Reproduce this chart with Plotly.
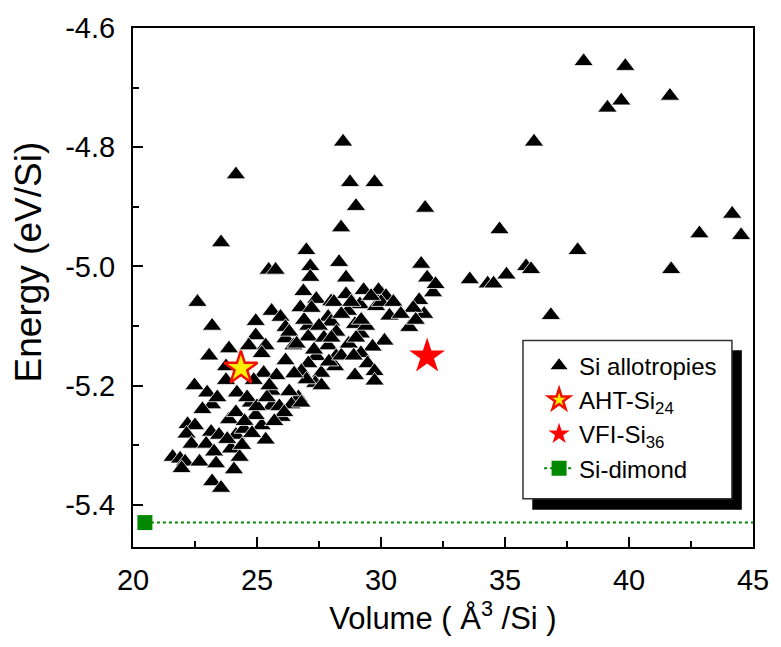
import plotly.graph_objects as go

# Si allotropies: volume (A^3/Si) and energy (eV/Si)
allo_volume = [
    38.17, 39.85, 39.13, 39.69, 41.65, 28.47, 36.17, 24.15, 28.75, 29.74,
    28.99, 31.78, 44.16, 28.39, 34.78, 42.84, 44.52, 23.55, 37.93, 35.85,
    36.05, 41.70, 35.06, 34.30, 34.54, 33.58, 36.85, 31.62, 31.86, 32.10,
    31.54, 31.74, 31.14, 32.20, 31.30, 31.40,
    26.99, 25.47, 25.75, 28.31, 27.15, 27.15, 28.59, 26.87, 28.59, 30.06,
    27.39, 27.99, 29.15, 29.78, 22.60, 25.59, 26.75, 28.67, 30.34, 24.95,
    25.95, 27.87, 28.95, 23.19, 26.15, 27.07, 27.99, 24.95, 26.15, 27.07,
    29.19, 30.14, 24.67, 25.35, 26.47, 27.87, 29.66, 23.87, 23.07, 27.39,
    28.19, 29.19, 25.19, 26.15, 27.07, 29.46, 23.75, 28.15, 29.74, 25.27,
    25.79, 26.79, 27.59, 28.95, 29.74, 22.48, 23.75, 24.87, 27.35, 22.99,
    24.19, 25.59, 26.67,
    22.20, 22.50, 22.16, 23.15, 23.47, 22.36, 22.95, 21.60, 21.90, 22.10,
    21.96, 22.68, 23.27, 23.35, 23.95, 24.07, 23.19, 23.55, 24.15, 24.47,
    25.19, 25.35, 25.99, 23.87, 24.15, 23.19, 24.95, 25.59, 26.39, 26.79,
    24.75,
    24.60, 25.00, 25.40, 25.90, 26.30, 26.10, 25.70, 24.50, 27.00, 27.60,
    27.90, 28.40, 29.90, 30.20, 29.80, 30.00, 26.30, 26.60, 26.90, 27.20,
    27.50, 27.70, 28.10, 28.40, 28.80, 29.30, 29.60, 28.20, 28.70, 29.00,
    29.40, 30.50, 30.80, 24.30, 24.80, 23.80, 23.40, 22.80, 24.40, 25.50,
    26.50, 27.30, 28.00, 28.90, 29.20,
]
allo_energy = [
    -4.656, -4.664, -4.734, -4.722, -4.714, -4.791, -4.791, -4.846, -4.859, -4.859,
    -4.899, -4.902, -4.912, -4.935, -4.938, -4.945, -4.948, -4.960, -4.973, -5.000,
    -5.005, -5.005, -5.014, -5.029, -5.029, -5.022, -5.082, -4.996, -5.019, -5.044,
    -5.057, -5.080, -5.102, -5.030, -5.070, -5.090,
    -4.973, -5.006, -5.006, -4.993, -5.000, -5.018, -5.019, -5.042, -5.047, -5.047,
    -5.055, -5.059, -5.064, -5.067, -5.060, -5.075, -5.069, -5.075, -5.083, -5.092,
    -5.085, -5.085, -5.097, -5.100, -5.102, -5.100, -5.093, -5.116, -5.121, -5.118,
    -5.113, -5.125, -5.133, -5.133, -5.133, -5.133, -5.135, -5.138, -5.150, -5.151,
    -5.151, -5.146, -5.146, -5.158, -5.163, -5.163, -5.168, -5.168, -5.176, -5.179,
    -5.183, -5.176, -5.179, -5.183, -5.192, -5.200, -5.191, -5.191, -5.196, -5.212,
    -5.212, -5.209, -5.220,
    -5.265, -5.267, -5.281, -5.278, -5.283, -5.298, -5.298, -5.320, -5.323, -5.328,
    -5.339, -5.328, -5.311, -5.331, -5.306, -5.341, -5.361, -5.372, -5.283, -5.273,
    -5.267, -5.291, -5.253, -5.257, -5.245, -5.232, -5.250, -5.234, -5.232, -5.229,
    -5.229,
    -5.220, -5.235, -5.220, -5.235, -5.210, -5.245, -5.260, -5.260, -5.190, -5.200,
    -5.160, -5.150, -5.040, -5.050, -5.067, -5.060, -5.110, -5.130, -5.090, -5.070,
    -5.100, -5.120, -5.060, -5.080, -5.060, -5.040, -5.050, -5.110, -5.130, -5.120,
    -5.100, -5.060, -5.080, -5.320, -5.280, -5.290, -5.220, -5.240, -5.300, -5.200,
    -5.180, -5.140, -5.120, -5.150, -5.090,
]

aht_volume = [24.35]
aht_energy = [-5.171]
vfi_volume = [31.86]
vfi_energy = [-5.151]
# diamond point plus the dotted reference line running to the right edge
dimond_volume = [20.48, 46.0]
dimond_energy = [-5.43, -5.43]

x_ticks = [20, 25, 30, 35, 40, 45]
y_ticks = [-4.6, -4.8, -5.0, -5.2, -5.4]
y_ticktext = ["-4.6", "-4.8", "-5.0", "-5.2", "-5.4"]

fig = go.Figure()

fig.add_trace(go.Scatter(
    x=allo_volume, y=allo_energy, mode="markers", name="Si allotropies",
    marker=dict(symbol="triangle-up", size=17, color="black",
                line=dict(color="white", width=0.8)),
))
fig.add_trace(go.Scatter(
    x=aht_volume, y=aht_energy, mode="markers", name="AHT-Si<sub>24</sub>",
    marker=dict(symbol="star", size=25, color="#ffee00",
                line=dict(color="#ee1100", width=2.5)),
))
fig.add_trace(go.Scatter(
    x=vfi_volume, y=vfi_energy, mode="markers", name="VFI-Si<sub>36</sub>",
    marker=dict(symbol="star", size=27, color="#ff0000", line=dict(width=0)),
))
fig.add_trace(go.Scatter(
    x=dimond_volume, y=dimond_energy, mode="lines+markers", name="Si-dimond",
    line=dict(color="#008800", width=2, dash="dot"),
    marker=dict(symbol="square", size=15, color="#008800"),
))

# legend frame with a drop shadow
fig.add_shape(type="rect", xref="paper", yref="paper",
              x0=0.644, x1=0.982, y0=0.072, y1=0.379,
              fillcolor="black", line=dict(width=0), layer="above")
fig.add_shape(type="rect", xref="paper", yref="paper",
              x0=0.629, x1=0.966, y0=0.093, y1=0.398,
              fillcolor="white", line=dict(color="#333333", width=1.5), layer="above")

tick_font = dict(family="Arial", size=29, color="black")
fig.update_xaxes(
    range=[20, 45], tickvals=x_ticks,
    showline=True, linecolor="black", linewidth=2, mirror=True,
    ticks="inside", ticklen=10, tickwidth=2, tickcolor="black",
    minor=dict(dtick=2.5, ticks="inside", ticklen=6, tickwidth=2, tickcolor="black"),
    showgrid=False, zeroline=False, tickfont=tick_font, ticklabelstandoff=6,
    title=dict(text="Volume ( Å<sup>3</sup> /Si )",
               font=dict(family="Arial", size=31, color="black"), standoff=10),
)
fig.update_yaxes(
    range=[-5.471, -4.6], tickvals=y_ticks, ticktext=y_ticktext,
    showline=True, linecolor="black", linewidth=2, mirror=True,
    ticks="inside", ticklen=10, tickwidth=2, tickcolor="black",
    minor=dict(dtick=0.1, tick0=-4.6, ticks="inside", ticklen=6, tickwidth=2, tickcolor="black"),
    showgrid=False, zeroline=False, tickfont=tick_font, ticklabelstandoff=10,
)

# y title placed a little above the plot centre, as in the original
fig.add_annotation(
    text="Energy (eV/Si)", textangle=-90, showarrow=False,
    xref="paper", yref="paper", x=-0.168, y=0.55,
    xanchor="center", yanchor="middle",
    font=dict(family="Arial", size=37, color="black"),
)

fig.update_layout(
    width=781, height=647,
    margin=dict(l=133, r=22, t=19, b=100),
    plot_bgcolor="white", paper_bgcolor="white",
    showlegend=True,
    legend=dict(x=0.655, y=0.392, xanchor="left", yanchor="top",
                bgcolor="rgba(0,0,0,0)", borderwidth=0,
                font=dict(family="Arial", size=24, color="black"),
                itemsizing="trace", tracegroupgap=0),
)

fig.write_html("out.html", config={"displayModeBar": False},
               post_script="document.body.style.margin='0';")
